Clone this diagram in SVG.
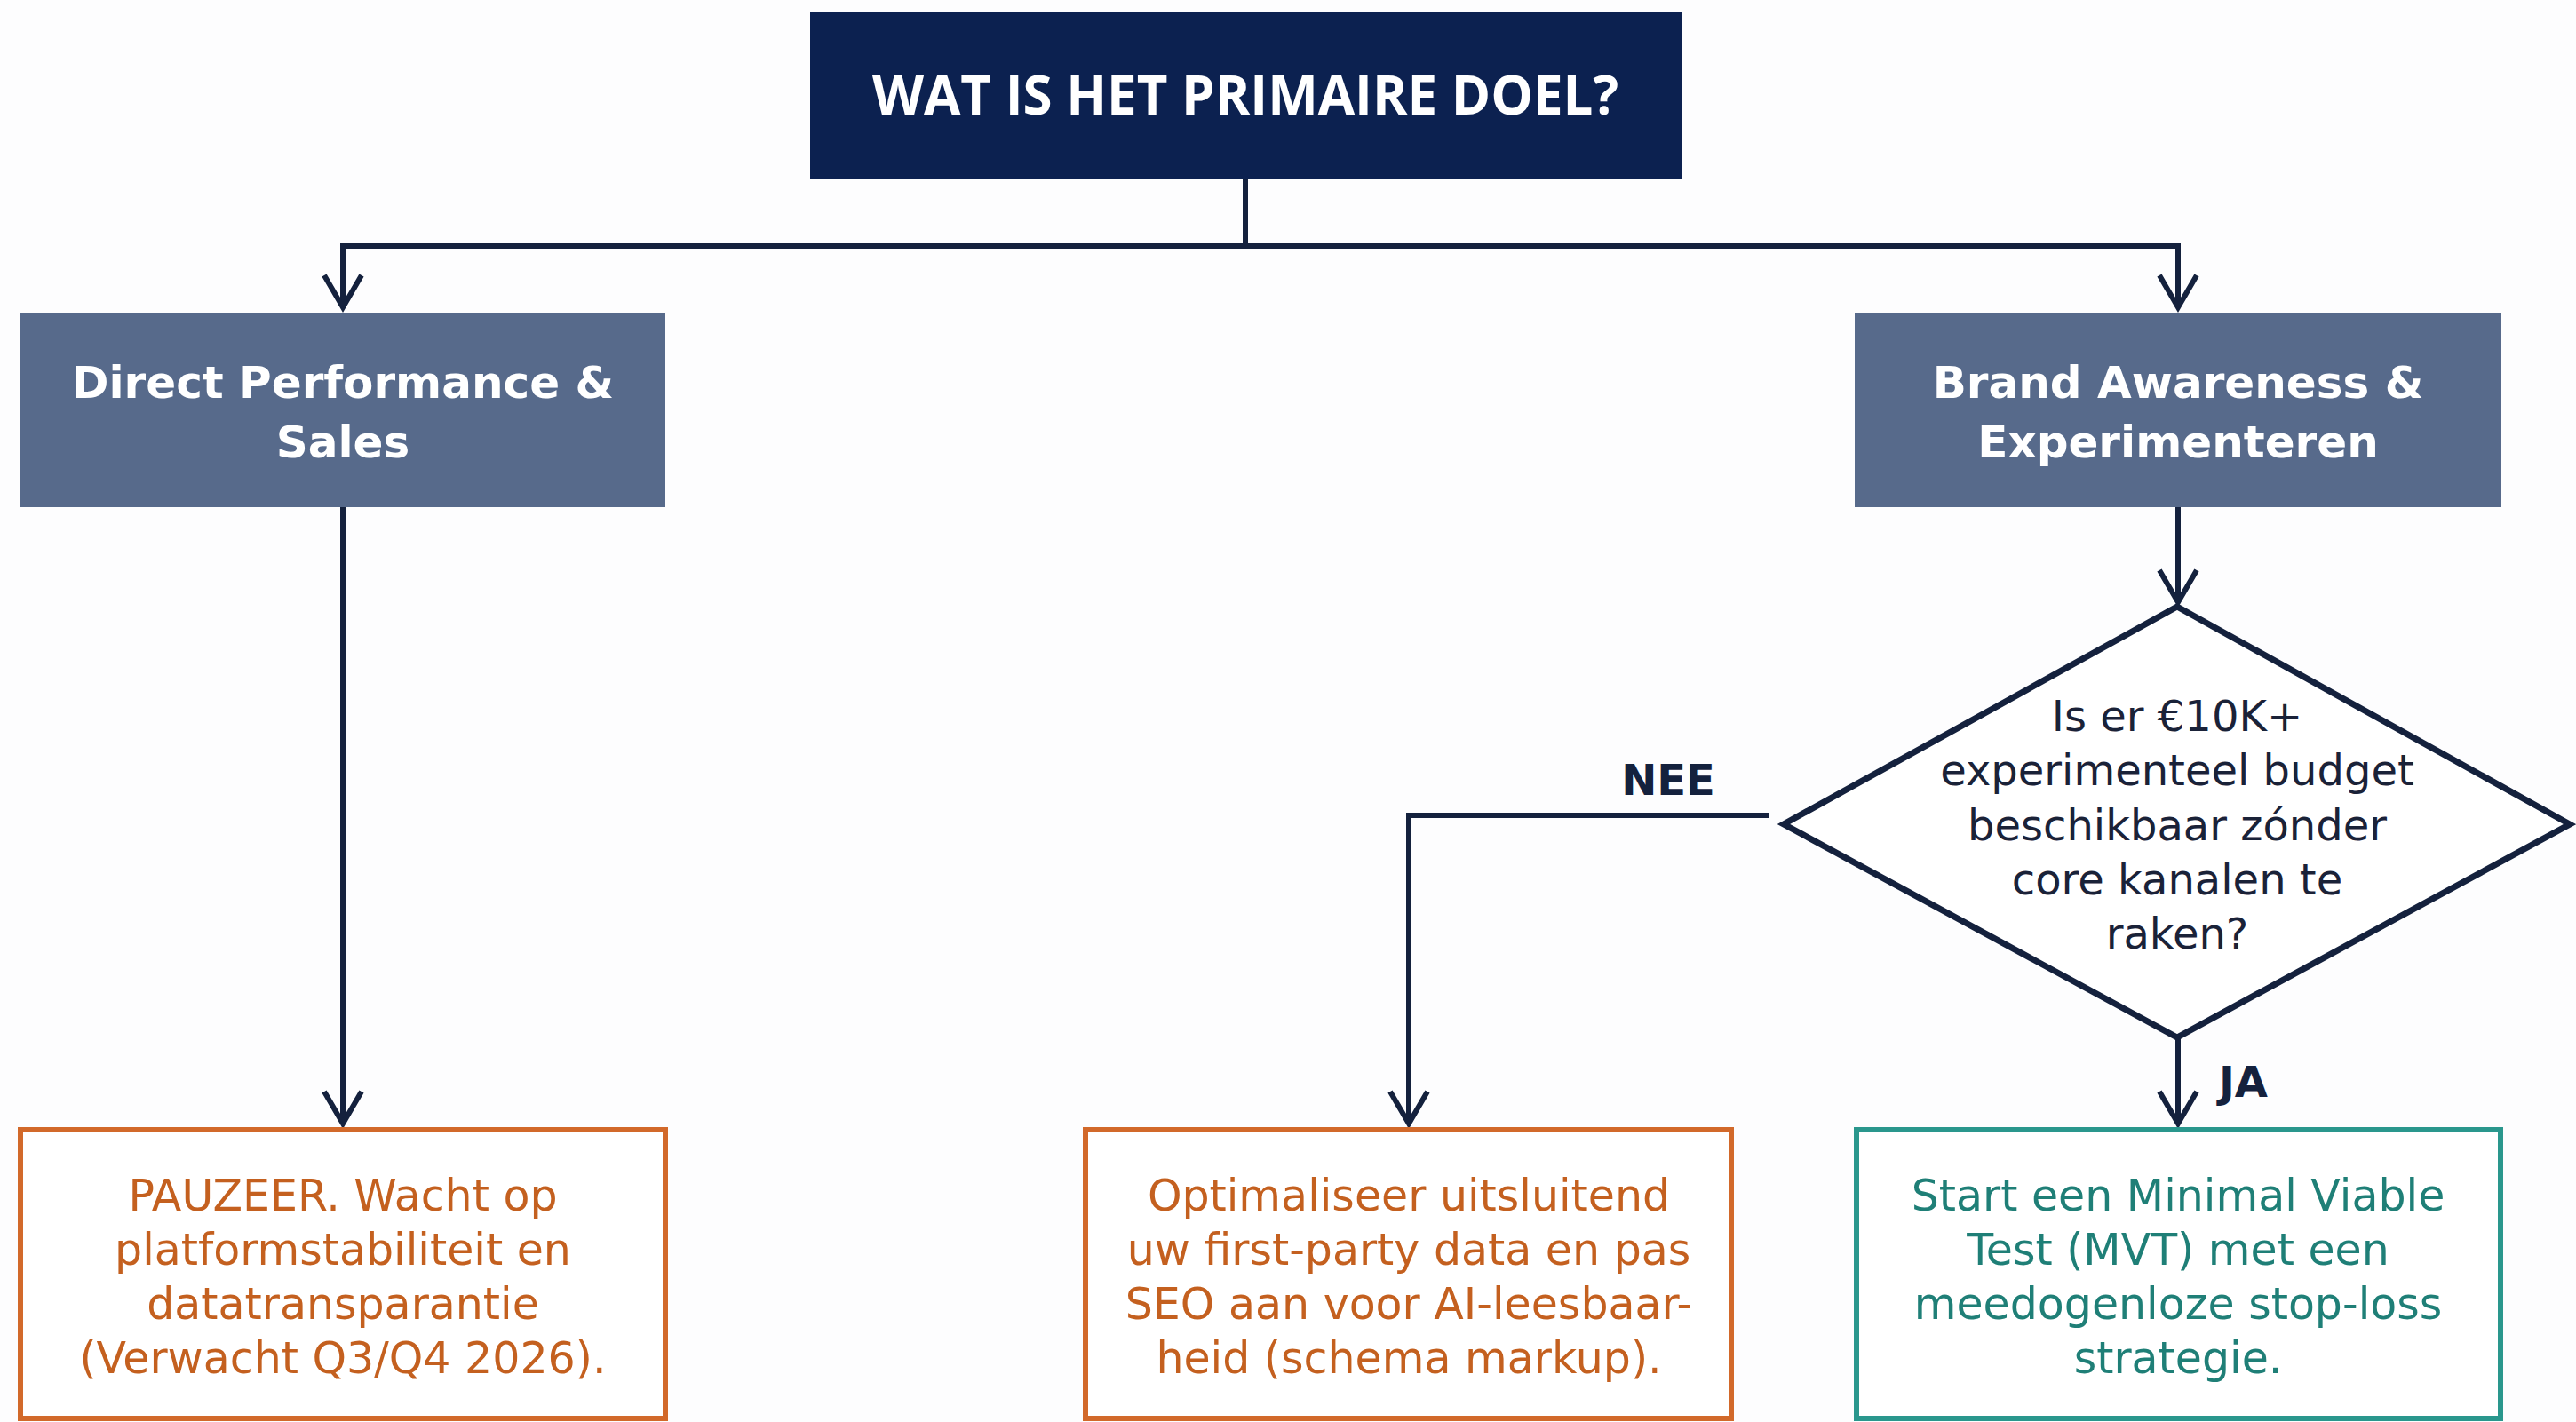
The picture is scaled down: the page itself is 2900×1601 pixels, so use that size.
<svg xmlns="http://www.w3.org/2000/svg" width="2900" height="1601" viewBox="0 0 2900 1601">
  <style>
    .bg { fill: #fdfdfe; }
    .title-box { fill: #0c2150; }
    .cat-box { fill: #576a8b; }
    .warn-box { fill: #ffffff; stroke: #d2692a; stroke-width: 6; }
    .go-box { fill: #ffffff; stroke: #2a978d; stroke-width: 6; }
    .decision { fill: #ffffff; stroke: #14213d; stroke-width: 7; stroke-linejoin: miter; }
    .conn { fill: none; stroke: #14213d; stroke-width: 6; }
    .t-title { font-family: "Open Sans", "DejaVu Sans", sans-serif; font-weight: 700; font-size: 60px; fill: #ffffff; text-anchor: middle; }
    .t-cat { font-family: "DejaVu Sans", "Open Sans", sans-serif; font-weight: 700; font-size: 50px; fill: #ffffff; text-anchor: middle; }
    .t-dec { font-family: "DejaVu Sans", "Open Sans", sans-serif; font-size: 48px; fill: #1a2238; text-anchor: middle; }
    .t-warn { font-family: "DejaVu Sans", "Open Sans", sans-serif; font-size: 49px; fill: #c4601f; text-anchor: middle; }
    .t-go { font-family: "DejaVu Sans", "Open Sans", sans-serif; font-size: 49px; fill: #1f7f77; text-anchor: middle; }
    .t-lbl { font-family: "DejaVu Sans", "Open Sans", sans-serif; font-weight: 700; font-size: 48px; fill: #14213d; }
  </style>
  <defs>
    <marker id="arrow" markerUnits="userSpaceOnUse" markerWidth="60" markerHeight="60" viewBox="-50 -30 60 60" refX="0" refY="0" orient="auto">
      <path d="M-36,-21 L0,0 L-36,21" fill="none" stroke="#14213d" stroke-width="6" stroke-linejoin="miter"/>
    </marker>
  </defs>

  <rect class="bg" x="0" y="0" width="2900" height="1601"/>

  <g id="connectors">
    <path class="conn" d="M1402 201 V277 H386 V346" marker-end="url(#arrow)"/>
    <path class="conn" d="M1402 277 H2452 V346" marker-end="url(#arrow)"/>
    <path class="conn" d="M386 571 V1265" marker-end="url(#arrow)"/>
    <path class="conn" d="M2452 571 V678" marker-end="url(#arrow)"/>
    <path class="conn" d="M1992 918 H1586 V1265" marker-end="url(#arrow)"/>
    <path class="conn" d="M2452 1168 V1265" marker-end="url(#arrow)"/>
    <text class="t-lbl" x="1878" y="895" text-anchor="middle">NEE</text>
    <text class="t-lbl" x="2498" y="1235">JA</text>
  </g>

  <g id="node-doel">
    <rect class="title-box" x="912" y="13" width="981" height="188"/>
    <text class="t-title" x="1402" y="129">WAT IS HET PRIMAIRE DOEL?</text>
  </g>

  <g id="node-performance">
    <rect class="cat-box" x="23" y="352" width="726" height="219"/>
    <text class="t-cat" x="386" y="448">Direct Performance &amp;</text>
    <text class="t-cat" x="386" y="515">Sales</text>
  </g>

  <g id="node-brand">
    <rect class="cat-box" x="2088" y="352" width="728" height="219"/>
    <text class="t-cat" x="2452" y="448">Brand Awareness &amp;</text>
    <text class="t-cat" x="2452" y="515">Experimenteren</text>
  </g>

  <g id="node-budget">
    <polygon class="decision" points="2451,683 2893,928 2451,1168 2008,928"/>
    <text class="t-dec" x="2451" y="823">Is er €10K+</text>
    <text class="t-dec" x="2451" y="884">experimenteel budget</text>
    <text class="t-dec" x="2451" y="946">beschikbaar zónder</text>
    <text class="t-dec" x="2451" y="1007">core kanalen te</text>
    <text class="t-dec" x="2451" y="1068">raken?</text>
  </g>

  <g id="node-pauzeer">
    <rect class="warn-box" x="23" y="1272" width="726" height="325"/>
    <text class="t-warn" x="386" y="1363">PAUZEER. Wacht op</text>
    <text class="t-warn" x="386" y="1424">platformstabiliteit en</text>
    <text class="t-warn" x="386" y="1485">datatransparantie</text>
    <text class="t-warn" x="386" y="1546">(Verwacht Q3/Q4 2026).</text>
  </g>

  <g id="node-optimaliseer">
    <rect class="warn-box" x="1222" y="1272" width="727" height="325"/>
    <text class="t-warn" x="1586" y="1363">Optimaliseer uitsluitend</text>
    <text class="t-warn" x="1586" y="1424">uw first-party data en pas</text>
    <text class="t-warn" x="1586" y="1485">SEO aan voor AI-leesbaar-</text>
    <text class="t-warn" x="1586" y="1546">heid (schema markup).</text>
  </g>

  <g id="node-mvt">
    <rect class="go-box" x="2090" y="1272" width="725" height="325"/>
    <text class="t-go" x="2452" y="1363">Start een Minimal Viable</text>
    <text class="t-go" x="2452" y="1424">Test (MVT) met een</text>
    <text class="t-go" x="2452" y="1485">meedogenloze stop-loss</text>
    <text class="t-go" x="2452" y="1546">strategie.</text>
  </g>
</svg>
